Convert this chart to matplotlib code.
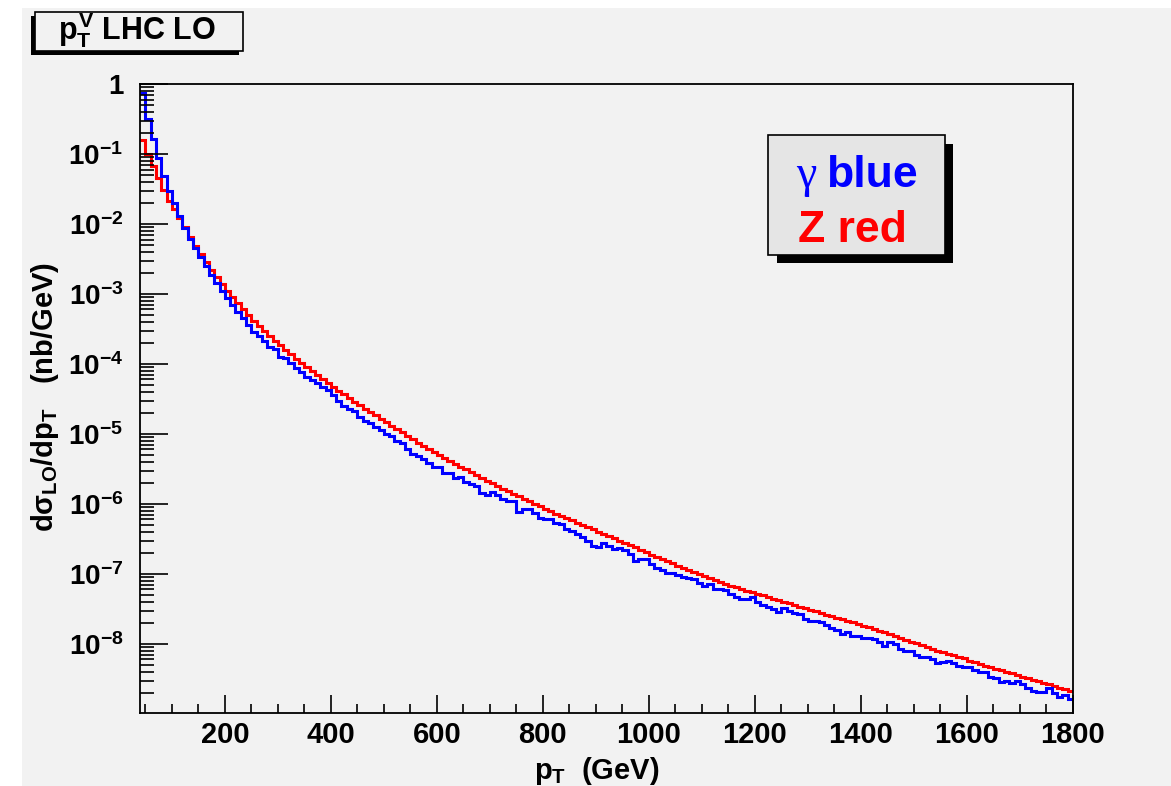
import numpy as np
import matplotlib
matplotlib.use("Agg")
import matplotlib.pyplot as plt
from matplotlib.patches import Rectangle
from matplotlib.ticker import FixedLocator, MultipleLocator, LogLocator, FuncFormatter, NullFormatter

plt.rcParams['font.family'] = ['Liberation Sans', 'DejaVu Sans']
plt.rcParams['font.weight'] = 'bold'
plt.rcParams['axes.unicode_minus'] = False
plt.rcParams['mathtext.fontset'] = 'custom'
plt.rcParams['mathtext.rm'] = 'Liberation Sans:bold'
plt.rcParams['mathtext.it'] = 'Liberation Sans:bold'
plt.rcParams['mathtext.bf'] = 'Liberation Sans:bold'
plt.rcParams['mathtext.sf'] = 'Liberation Sans:bold'

# histogram binning (GeV)
pt_lo, pt_hi, bin_w = 40, 1800, 10

# Z boson (red), d sigma / dpT in nb/GeV, one value per 10 GeV bin
z_vals = [
    1.58e-1, 1.00e-1, 6.81e-2, 4.50e-2, 3.06e-2, 2.15e-2, 1.64e-2, 1.22e-2, 9.06e-3, 6.52e-3,
    4.85e-3, 3.67e-3, 2.82e-3, 2.20e-3, 1.73e-3, 1.37e-3, 1.10e-3, 8.97e-4, 7.32e-4, 6.01e-4,
    4.93e-4, 4.11e-4, 3.49e-4, 2.96e-4, 2.53e-4, 2.16e-4, 1.85e-4, 1.59e-4, 1.37e-4, 1.19e-4,
    1.03e-4, 8.97e-5, 7.84e-5, 6.87e-5, 6.05e-5, 5.32e-5, 4.69e-5, 4.14e-5, 3.67e-5, 3.26e-5,
    2.89e-5, 2.58e-5, 2.30e-5, 2.06e-5, 1.84e-5, 1.65e-5, 1.47e-5, 1.32e-5, 1.18e-5, 1.05e-5,
    9.43e-6, 8.40e-6, 7.51e-6, 6.78e-6, 6.13e-6, 5.55e-6, 5.03e-6, 4.56e-6, 4.14e-6, 3.76e-6,
    3.42e-6, 3.12e-6, 2.85e-6, 2.60e-6, 2.37e-6, 2.16e-6, 1.98e-6, 1.81e-6, 1.65e-6, 1.52e-6,
    1.39e-6, 1.28e-6, 1.18e-6, 1.09e-6, 1.00e-6, 9.24e-7, 8.54e-7, 7.89e-7, 7.29e-7, 6.76e-7,
    6.27e-7, 5.81e-7, 5.39e-7, 5.01e-7, 4.66e-7, 4.34e-7, 4.03e-7, 3.73e-7, 3.47e-7, 3.23e-7,
    3.00e-7, 2.79e-7, 2.60e-7, 2.40e-7, 2.22e-7, 2.05e-7, 1.89e-7, 1.75e-7, 1.62e-7, 1.51e-7,
    1.41e-7, 1.31e-7, 1.23e-7, 1.14e-7, 1.07e-7, 1.00e-7, 9.36e-8, 8.77e-8, 8.21e-8, 7.71e-8,
    7.24e-8, 6.83e-8, 6.46e-8, 6.11e-8, 5.79e-8, 5.50e-8, 5.21e-8, 4.95e-8, 4.69e-8, 4.45e-8,
    4.22e-8, 4.01e-8, 3.80e-8, 3.61e-8, 3.42e-8, 3.25e-8, 3.08e-8, 2.92e-8, 2.77e-8, 2.63e-8,
    2.50e-8, 2.38e-8, 2.26e-8, 2.14e-8, 2.03e-8, 1.92e-8, 1.82e-8, 1.72e-8, 1.63e-8, 1.54e-8,
    1.46e-8, 1.40e-8, 1.29e-8, 1.22e-8, 1.15e-8, 1.08e-8, 1.02e-8, 9.6e-9, 9.0e-9, 8.5e-9,
    8.0e-9, 7.7e-9, 7.2e-9, 6.9e-9, 6.4e-9, 6.2e-9, 5.78e-9, 5.5e-9, 5.1e-9, 4.9e-9,
    4.62e-9, 4.40e-9, 4.17e-9, 3.97e-9, 3.78e-9, 3.59e-9, 3.42e-9, 3.27e-9, 3.10e-9, 2.94e-9,
    2.79e-9, 2.65e-9, 2.51e-9, 2.38e-9, 2.26e-9, 2.14e-9,
]

# photon (blue)
gamma_vals = [
    7.36e-1, 3.19e-1, 1.62e-1, 8.77e-2, 4.90e-2, 2.99e-2, 1.98e-2, 1.31e-2, 8.77e-3, 6.11e-3,
    4.50e-3, 3.34e-3, 2.54e-3, 1.87e-3, 1.44e-3, 1.11e-3, 8.68e-4, 6.97e-4, 5.59e-4, 4.54e-4,
    3.61e-4, 2.89e-4, 2.51e-4, 2.15e-4, 1.77e-4, 1.62e-4, 1.27e-4, 1.21e-4, 1.02e-4, 8.68e-5,
    7.76e-5, 6.59e-5, 5.91e-5, 5.30e-5, 4.74e-5, 4.25e-5, 3.60e-5, 3.00e-5, 2.50e-5, 2.30e-5,
    2.10e-5, 1.75e-5, 1.55e-5, 1.42e-5, 1.24e-5, 1.13e-5, 1.00e-5, 9.30e-6, 7.90e-6, 7.40e-6,
    6.00e-6, 5.10e-6, 4.85e-6, 4.35e-6, 3.81e-6, 3.34e-6, 3.34e-6, 2.75e-6, 2.75e-6, 2.33e-6,
    2.45e-6, 2.05e-6, 1.95e-6, 1.80e-6, 1.45e-6, 1.35e-6, 1.50e-6, 1.36e-6, 1.16e-6, 1.10e-6,
    1.10e-6, 7.76e-7, 8.40e-7, 8.40e-7, 7.36e-7, 6.25e-7, 6.11e-7, 6.11e-7, 5.35e-7, 5.18e-7,
    4.39e-7, 4.11e-7, 3.73e-7, 3.38e-7, 2.96e-7, 2.51e-7, 2.45e-7, 2.80e-7, 2.51e-7, 2.25e-7,
    2.33e-7, 2.20e-7, 1.93e-7, 1.55e-7, 1.65e-7, 1.62e-7, 1.39e-7, 1.21e-7, 1.14e-7, 1.04e-7,
    1.03e-7, 9.68e-8, 9.15e-8, 8.68e-8, 8.57e-8, 7.51e-8, 6.74e-8, 7.20e-8, 6.05e-8, 6.05e-8,
    5.91e-8, 5.18e-8, 4.65e-8, 4.35e-8, 4.35e-8, 4.65e-8, 4.02e-8, 3.61e-8, 3.34e-8, 3.13e-8,
    2.89e-8, 3.24e-8, 2.99e-8, 2.80e-8, 2.68e-8, 2.25e-8, 2.15e-8, 2.11e-8, 2.03e-8, 1.87e-8,
    1.71e-8, 1.60e-8, 1.38e-8, 1.47e-8, 1.31e-8, 1.31e-8, 1.21e-8, 1.21e-8, 1.18e-8, 1.06e-8,
    9.46e-9, 1.08e-8, 9.90e-9, 8.48e-9, 7.94e-9, 7.94e-9, 6.97e-9, 6.59e-9, 6.59e-9, 6.11e-9,
    5.30e-9, 5.48e-9, 5.72e-9, 5.30e-9, 4.90e-9, 4.74e-9, 4.74e-9, 4.25e-9, 4.02e-9, 4.02e-9,
    3.41e-9, 3.30e-9, 2.89e-9, 2.96e-9, 2.75e-9, 2.96e-9, 2.66e-9, 2.33e-9, 2.13e-9, 2.08e-9,
    2.08e-9, 2.33e-9, 1.98e-9, 1.77e-9, 1.87e-9, 1.64e-9,
]

x_ticks = [200, 400, 600, 800, 1000, 1200, 1400, 1600, 1800]

W, H = 1171, 786
fig = plt.figure(figsize=(W / 100, H / 100), dpi=100)
fig.patch.set_facecolor('white')

def px_rect(x0, y0, x1, y1, **kw):
    # rectangle given in picture pixels (origin top-left)
    r = Rectangle((x0 / W, 1 - y1 / H), (x1 - x0) / W, (y1 - y0) / H,
                  transform=fig.transFigure, **kw)
    fig.add_artist(r)
    return r

# grey canvas
px_rect(22, 8, W, H, facecolor='#f2f2f2', edgecolor='none', zorder=-10)

ax = fig.add_axes([140 / W, 1 - 713 / H, 933 / W, 629 / H])
ax.set_facecolor('#f2f2f2')

edges = np.arange(pt_lo, pt_hi + bin_w, bin_w)
ax.stairs(z_vals, edges, baseline=None, color='#ff0000', lw=2.2)
ax.stairs(gamma_vals, edges, baseline=None, color='#0000ff', lw=2.2)

ax.set_yscale('log')
ax.set_xlim(pt_lo, pt_hi)
ax.set_ylim(1.03e-9, 1.0)

ax.xaxis.set_major_locator(FixedLocator(x_ticks))
ax.xaxis.set_minor_locator(MultipleLocator(50))
ax.yaxis.set_major_locator(LogLocator(base=10, numticks=20))
ax.yaxis.set_minor_locator(LogLocator(base=10, subs=np.arange(2, 10), numticks=20))
ax.yaxis.set_minor_formatter(NullFormatter())

def ylab(v, pos):
    e = int(round(np.log10(v)))
    return '1' if e == 0 else r'$10^{%d}$' % e

ax.yaxis.set_major_formatter(FuncFormatter(ylab))

ax.tick_params(which='both', direction='in', top=False, right=False, width=1.2)
ax.tick_params(axis='y', which='major', length=20, pad=12, labelsize=20)
ax.tick_params(axis='y', which='minor', length=10)
ax.tick_params(axis='x', which='major', length=13, pad=6, labelsize=21)
ax.tick_params(axis='x', which='minor', length=6.5)
for s in ax.spines.values():
    s.set_linewidth(1.3)

ax.set_xlabel(r'$p_T$  (GeV)', fontsize=21, fontweight='bold')
ax.xaxis.set_label_coords(0.49, -0.092)
ax.xaxis.label.set_verticalalignment('center')
ax.set_ylabel(r'$d\sigma_{LO}/dp_T$   (nb/GeV)', fontsize=21, fontweight='bold')
ax.yaxis.set_label_coords(-0.102, 0.502)
ax.yaxis.label.set_verticalalignment('center')

# title box with shadow
px_rect(31, 16, 239, 55, facecolor='black', edgecolor='none', zorder=5)
px_rect(35, 12, 243, 51, facecolor='#f2f2f2', edgecolor='black', lw=1.2, zorder=6)
fig.text(58 / W, 1 - 40 / H, r'$p_T^V$ LHC LO', fontsize=22, fontweight='bold',
         ha='left', va='baseline', zorder=7)

# legend box with shadow
px_rect(777, 144, 953, 263, facecolor='black', edgecolor='none', zorder=5)
px_rect(768, 135, 945, 255, facecolor='#e5e5e5', edgecolor='black', lw=1.2, zorder=6)
fig.text(816 / W, 1 - 187 / H, '\u03b3', fontsize=33, fontweight='normal',
         family=['Liberation Serif', 'DejaVu Serif'], color='#0000ff',
         ha='right', va='baseline', zorder=7)
fig.text(826 / W, 1 - 187 / H, 'blue', fontsize=32, fontweight='bold', color='#0000ff',
         ha='left', va='baseline', zorder=7)
fig.text(852 / W, 1 - 242 / H, 'Z red', fontsize=32, fontweight='bold', color='#ff0000',
         ha='center', va='baseline', zorder=7)

fig.savefig('out.png', dpi=100)
